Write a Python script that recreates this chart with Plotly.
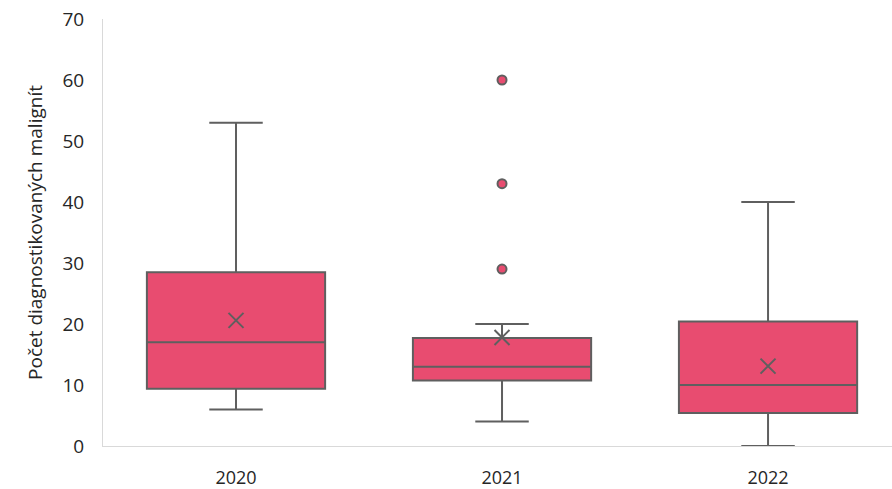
import plotly.graph_objects as go

years = ["2020", "2021", "2022"]
q1 = [9.4, 10.75, 5.4]
median = [17, 13, 10]
q3 = [28.5, 17.7, 20.4]
lower = [6, 4, 0]
upper = [53, 20, 40]
means = [20.6, 17.8, 13.1]
outlier_x = ["2021", "2021", "2021"]
outlier_y = [60, 43, 29]

fill = "#E84C70"
line = "#5F5F5F"
font = "Open Sans"

fig = go.Figure()
fig.add_trace(go.Box(
    x=years, q1=q1, median=median, q3=q3,
    lowerfence=lower, upperfence=upper,
    fillcolor=fill, line=dict(color=line, width=2),
    width=0.67, whiskerwidth=0.3, boxpoints=False,
    showlegend=False, hoverinfo="skip",
))
fig.add_trace(go.Scatter(
    x=years, y=means, mode="markers",
    marker=dict(symbol="x-thin-open", size=15, line=dict(color=line, width=2), color=line),
    showlegend=False,
))
fig.add_trace(go.Scatter(
    x=outlier_x, y=outlier_y, mode="markers",
    marker=dict(symbol="circle", size=9, color=fill, line=dict(color=line, width=2)),
    showlegend=False,
))

fig.update_layout(
    width=892, height=489,
    margin=dict(l=103, r=0, t=19, b=43),
    paper_bgcolor="white", plot_bgcolor="white",
    font=dict(family=font, size=18, color="#262626"),
)
fig.update_xaxes(
    type="category", range=[-0.5, 2.466], automargin=False,
    showline=True, linecolor="#D9D9D9", linewidth=1,
    showgrid=False, ticks="", ticklabelstandoff=15,
    tickfont=dict(size=18, color="#262626"),
)
fig.update_yaxes(
    range=[0, 70], dtick=10, showline=True, linecolor="#D9D9D9", linewidth=1,
    automargin=False,
    showgrid=False, zeroline=False, ticks="", ticklabelstandoff=14,
    tickfont=dict(size=19, color="#262626"),
    title=dict(text="Počet diagnostikovaných malignít", font=dict(size=19, color="#262626"), standoff=14),
)

fig.write_html("out.html", config={"displayModeBar": False},
               post_script="document.body.style.margin='0';document.body.style.padding='0';")
